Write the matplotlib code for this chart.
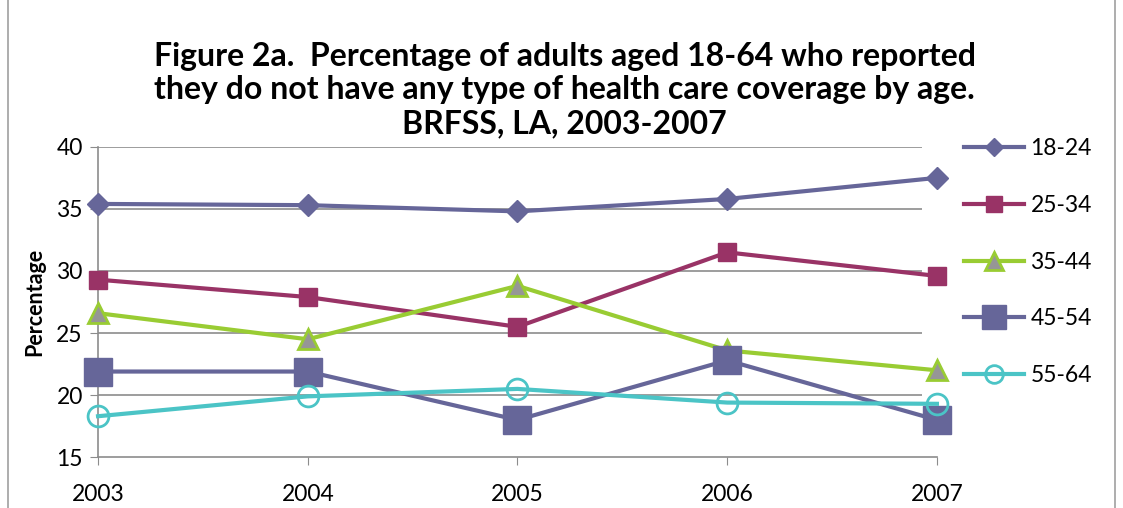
import matplotlib.pyplot as plt
from matplotlib.patches import Rectangle

# survey years and uninsured share (%) by age group
years = [2003, 2004, 2005, 2006, 2007]
age_18_24 = [35.4, 35.3, 34.8, 35.8, 37.5]
age_25_34 = [29.3, 27.9, 25.5, 31.5, 29.6]
age_35_44 = [26.6, 24.5, 28.8, 23.6, 22.0]
age_45_54 = [21.9, 21.9, 18.0, 22.8, 18.0]
age_55_64 = [18.3, 19.9, 20.5, 19.4, 19.3]

plt.rcParams['font.family'] = ['Lato', 'DejaVu Sans']

fig = plt.figure(figsize=(11.23, 5.08), dpi=100)
fig.patches.append(Rectangle((0.007, -0.01), 0.986, 1.02, transform=fig.transFigure,
                             fill=False, edgecolor='#a0a0a0', linewidth=1.2))
ax = fig.add_axes([0.0873, 0.100, 0.747, 0.611])

purple = '#666699'
ax.plot(years, age_18_24, color=purple, lw=3, marker='D', ms=11, label='18-24', clip_on=False, zorder=5)
ax.plot(years, age_25_34, color='#993366', lw=3, marker='s', ms=13, label='25-34', clip_on=False, zorder=5)
ax.plot(years, age_35_44, color='#99cc33', lw=3, marker='^', ms=15, mfc='#969696', mec='#99cc33',
        mew=2, label='35-44', clip_on=False, zorder=5)
ax.plot(years, age_45_54, color=purple, lw=3, marker='s', ms=20, label='45-54', clip_on=False, zorder=5)
ax.plot(years, age_55_64, color='#4bc4c6', lw=3, marker='o', ms=15, mfc='none', mec='#4bc4c6',
        mew=2, label='55-64', clip_on=False, zorder=5)

ax.set_xlim(2003, 2007)
ax.set_ylim(15, 40)
ax.set_xticks(years)
ax.set_yticks([15, 20, 25, 30, 35, 40])
for y in [20, 25, 30, 35, 40]:
    ax.hlines(y, 2003, 2006.93, color='#8c8c8c', lw=1.2, zorder=1)

for side in ['top', 'right']:
    ax.spines[side].set_visible(False)
for side in ['left', 'bottom']:
    ax.spines[side].set_color('#8c8c8c')
    ax.spines[side].set_linewidth(1.2)
ax.tick_params(axis='x', length=6, color='#8c8c8c', pad=13, labelsize=16.5)
ax.tick_params(axis='y', length=6, color='#8c8c8c', pad=5, labelsize=16.5)

ax.set_ylabel('Percentage', fontsize=15.5, fontweight='bold', labelpad=8)

fig.text(0.503, 0.823,
         'Figure 2a.  Percentage of adults aged 18-64 who reported\n'
         'they do not have any type of health care coverage by age.\n'
         'BRFSS, LA, 2003-2007',
         ha='center', va='center', fontsize=23, fontweight='bold', linespacing=1.2)

fig.legend(loc='upper left', bbox_to_anchor=(0.84, 0.768), frameon=False, fontsize=16.5,
           labelspacing=1.55, handlelength=2.6, handletextpad=0.3, markerscale=0.85)

fig.savefig('out.png', dpi=100)
